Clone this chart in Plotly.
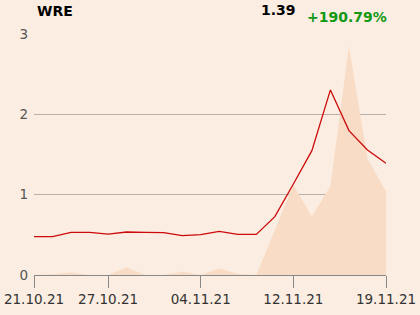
import plotly.graph_objects as go

dates = ["21.10.21", "22.10.21", "25.10.21", "26.10.21", "27.10.21", "28.10.21",
         "29.10.21", "02.11.21", "03.11.21", "04.11.21", "05.11.21", "08.11.21",
         "09.11.21", "10.11.21", "12.11.21", "15.11.21", "16.11.21", "17.11.21",
         "18.11.21", "19.11.21"]
price = [0.477, 0.477, 0.531, 0.531, 0.51, 0.535, 0.531, 0.527, 0.49, 0.502,
         0.544, 0.506, 0.506, 0.726, 1.133, 1.548, 2.304, 1.797, 1.557, 1.39]
volume = [0.0, 0.01, 0.03, 0.0, 0.0, 0.095, 0.0, 0.0, 0.04, 0.0,
          0.08, 0.015, 0.0, 0.56, 1.12, 0.726, 1.108, 2.84, 1.45, 1.04]
tick_dates = ["21.10.21", "27.10.21", "04.11.21", "12.11.21", "19.11.21"]
y_ticks = [0, 1, 2, 3]

bg = "#fbede1"
fig = go.Figure()
fig.add_trace(go.Scatter(x=dates, y=volume, mode="lines", line=dict(width=0),
                         fill="tozeroy", fillcolor="#f8dcc5", hoverinfo="skip"))
fig.add_trace(go.Scatter(x=dates, y=price, mode="lines",
                         line=dict(color="#cc0a0a", width=1.3)))

fig.update_layout(
    width=420, height=315, margin=dict(l=34, r=34, t=34, b=40),
    paper_bgcolor=bg, plot_bgcolor=bg, showlegend=False,
    font=dict(family="DejaVu Sans", size=13.5, color="#333333"),
    xaxis=dict(type="category", range=[0, 19], tickmode="array", tickvals=tick_dates,
               ticktext=tick_dates, ticks="outside", ticklen=12, tickcolor="#888888",
               showline=True, linecolor="#888888", linewidth=1, showgrid=False,
               zeroline=False, automargin=False,
               tickfont=dict(size=13.5, color="#333333")),
    yaxis=dict(range=[0, 3], tickvals=y_ticks, showgrid=True, gridcolor="#b5b0ab",
               gridwidth=1, zeroline=False, showline=False, ticks="", automargin=False,
               ticklabelstandoff=5,
               tickfont=dict(size=13.5, color="#555555")),
    annotations=[
        dict(text="<b>WRE</b>", x=35, y=315 - 11, xref="paper", yref="paper",
             showarrow=False, xanchor="left", yanchor="middle",
             font=dict(size=14, color="#000000")),
        dict(text="<b>1.39</b>", x=298, y=315 - 10, xref="paper", yref="paper",
             showarrow=False, xanchor="right", yanchor="middle",
             font=dict(size=14, color="#000000")),
        dict(text="<b>+190.79%</b>", x=389, y=315 - 17, xref="paper", yref="paper",
             showarrow=False, xanchor="right", yanchor="middle",
             font=dict(size=14, color="#119911")),
    ],
)
# convert pixel positions of annotations to paper coordinates
pw, ph = 420 - 68, 315 - 74
for a in fig.layout.annotations:
    a.x = (a.x - 34) / pw
    a.y = (a.y - 40) / ph

fig.write_html("out.html")
